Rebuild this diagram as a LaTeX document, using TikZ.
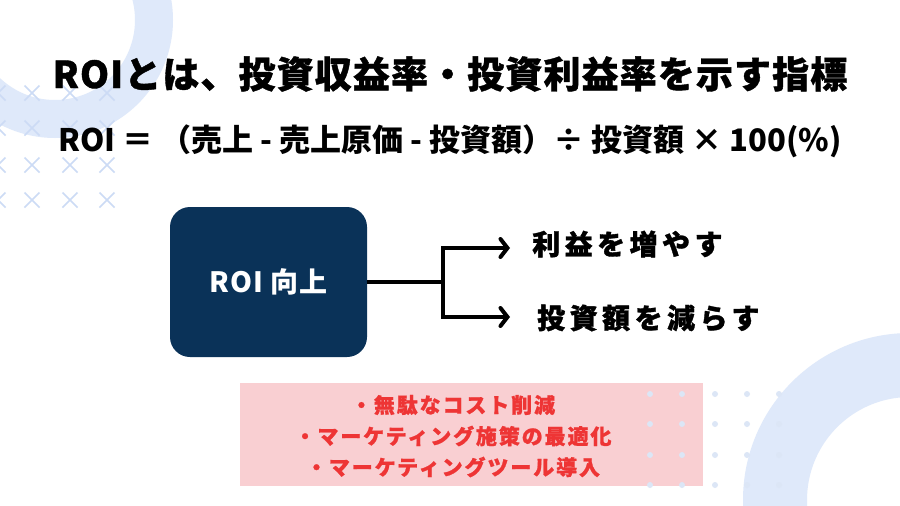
\documentclass[tikz,border=0pt]{standalone}
\usepackage{fontspec}
\setmainfont{Noto Sans CJK JP}
\usetikzlibrary{arrows.meta}
\definecolor{ringc}{HTML}{DFE9FA}
\definecolor{crossc}{HTML}{CCDBF5}
\definecolor{navy}{HTML}{0A3258}
\definecolor{pinkbg}{HTML}{F9CFD2}
\definecolor{redtxt}{HTML}{EE3535}
\definecolor{dotc}{HTML}{DCE6F6}
\tikzset{
  titletext/.style={font=\fontsize{37}{44}\selectfont\bfseries\addfontfeatures{LetterSpace=3,FakeBold=1}, text=black, inner sep=0pt},
  formulatext/.style={font=\fontsize{31}{36}\selectfont\bfseries, text=black, inner sep=0pt},
  mainbox/.style={fill=navy, rounded corners=20pt, minimum width=197pt, minimum height=150pt, text=white, font=\fontsize{28}{32}\selectfont\bfseries\addfontfeatures{LetterSpace=3}, inner sep=0pt},
  branchtext/.style={font=\fontsize{28}{32}\selectfont\bfseries\addfontfeatures{LetterSpace=16,FakeBold=1.2}, text=black, inner sep=0pt, anchor=west},
  pinkbox/.style={fill=pinkbg, minimum width=463pt, minimum height=103pt, inner sep=0pt},
  itemtext/.style={font=\fontsize{21}{25}\selectfont\bfseries\addfontfeatures{LetterSpace=9,FakeBold=1}, text=redtxt, inner sep=0pt},
  conn/.style={line width=4pt, black, line join=miter},
  arrowconn/.style={conn, -{Straight Barb[length=7pt,width=18pt,line width=4pt,line cap=round]}},
  crossline/.style={crossc, line width=1.6pt},
}
\begin{document}
\begin{tikzpicture}[x=1pt,y=-1pt]
\useasboundingbox (0,0) rectangle (900,506);
\clip (0,0) rectangle (900,506);
\fill[white] (0,0) rectangle (900,506);
% decorative rings
\fill[ringc, even odd rule] (55,20) circle[radius=118pt] (55,20) circle[radius=80pt];
\fill[ringc, even odd rule] (910,500) circle[radius=167pt] (910,500) circle[radius=103pt];
% crosses
\foreach \cx in {-2,32,70,107}{
  \foreach \cy in {93,128,165,200}{
    \draw[crossline] (\cx-7.5,\cy-7.5) -- (\cx+7.5,\cy+7.5) (\cx-7.5,\cy+7.5) -- (\cx+7.5,\cy-7.5);
  }
}
% pink box
\node[pinkbox] (pink) at (471.5,434.5) {};
% dots
\foreach \dx in {650,682,715,747,779}{
  \foreach \dy in {394,424,455,485}{
    \fill[dotc] (\dx,\dy) circle[radius=3pt];
  }
}
% titles
\node[titletext] (title) at (450,74) {ROIとは、投資収益率・投資利益率を示す指標};
\node[formulatext] (formula) at (450,141) {ROI ＝ （売上 - 売上原価 - 投資額）÷ 投資額 × 100(\%)};
% main box
\node[mainbox] (box) at (268.5,282) {ROI 向上};
% connectors
\coordinate (j) at (443,282);
\coordinate (jt) at (443,248);
\coordinate (jb) at (443,317);
\coordinate (at) at (510,248);
\coordinate (ab) at (510,317);
\draw[conn] (box.east) -- (j);
\draw[conn] (jt) -- (jb);
\draw[arrowconn] ([xshift=-2pt]jt) -- (at);
\draw[arrowconn] ([xshift=-2pt]jb) -- (ab);
% branch labels
\node[branchtext] (up) at (532,244) {利益を増やす};
\node[branchtext] (down) at (537,318) {投資額を減らす};
% items
\node[itemtext] (i1) at (453,405) {・無駄なコスト削減};
\node[itemtext] (i2) at (453,436) {・マーケティング施策の最適化};
\node[itemtext] (i3) at (453,467) {・マーケティングツール導入};
\end{tikzpicture}
\end{document}
